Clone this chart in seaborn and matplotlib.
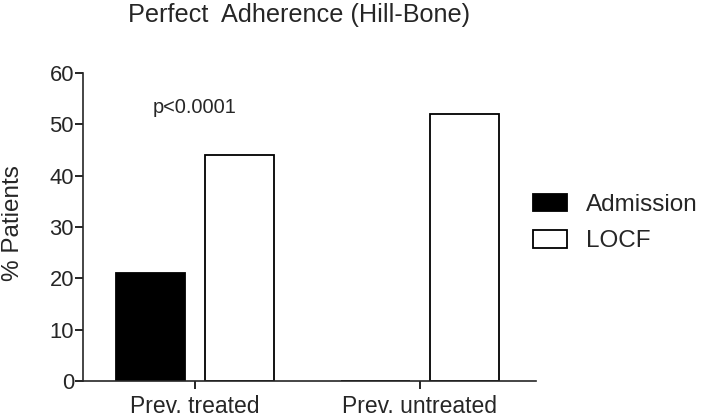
import matplotlib
matplotlib.use("Agg")
import matplotlib.pyplot as plt
import seaborn as sns
import pandas as pd

categories = ["Prev. treated", "Prev. untreated"]
series_names = ["Admission", "LOCF"]
admission = [21, 0]
locf = [44, 52]
y_ticks = [0, 10, 20, 30, 40, 50, 60]

sns.set_style("ticks")
plt.rcParams["font.family"] = ["Liberation Sans", "DejaVu Sans"]

df = pd.DataFrame({
    "group": categories * 2,
    "series": [series_names[0]] * 2 + [series_names[1]] * 2,
    "value": admission + locf,
})

fig = plt.figure(figsize=(7.03, 4.18), dpi=100)
ax = fig.add_axes([83 / 703, 1 - 381 / 418, (536 - 83) / 703, (381 - 73) / 418])

sns.barplot(data=df, x="group", y="value", hue="series", order=categories,
            hue_order=series_names, palette={"Admission": "black", "LOCF": "white"},
            edgecolor="black", linewidth=1.3, width=0.784, gap=0.217,
            errorbar=None, ax=ax, legend=True)

ax.set_xlim(-0.498, 1.516)
ax.set_ylim(0, 60)
ax.set_yticks(y_ticks)
ax.set_xlabel("")
ax.set_ylabel("")
for s in ["top", "right"]:
    ax.spines[s].set_visible(False)
for s in ["left", "bottom"]:
    ax.spines[s].set_linewidth(1.2)
ax.tick_params(axis="both", length=5.5, width=1.2, color="black")
ax.tick_params(axis="x", pad=4.5, labelsize=16.5)
ax.tick_params(axis="y", pad=1, labelsize=15.8)

fig.text(13 / 703, 1 - 223 / 418, "% Patients", rotation=90, fontsize=17.5,
         ha="center", va="center")
fig.text(128 / 703, 1 - 15 / 418, "Perfect  Adherence (Hill-Bone)", fontsize=18.2,
         ha="left", va="center")
ax.text(0.0, 1 - (107 - 73) / (381 - 73), "p<0.0001", transform=ax.get_xaxis_transform(),
        fontsize=14.4, ha="center", va="center")

handles, labels = ax.get_legend_handles_labels()
ax.legend(handles, labels, loc="center left", bbox_to_anchor=(533 / 703, 1 - 223 / 418),
          bbox_transform=fig.transFigure, frameon=False, fontsize=17.5,
          handlelength=1.4, handleheight=0.74, handletextpad=0.78,
          labelspacing=0.58, borderpad=0, borderaxespad=0)

fig.savefig("out.png", dpi=100)
